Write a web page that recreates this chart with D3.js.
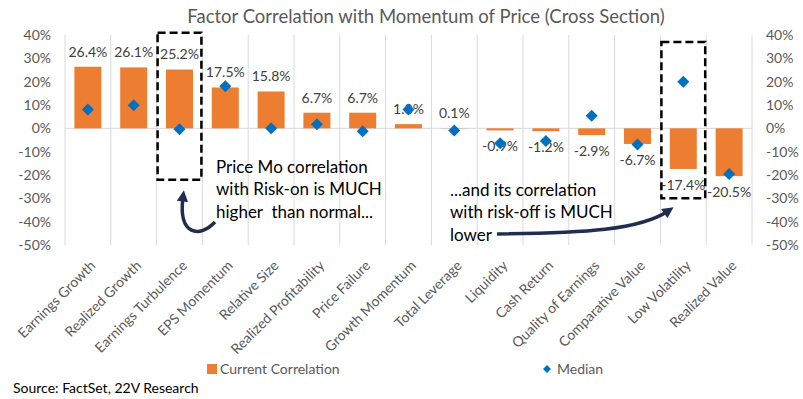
<!DOCTYPE html>
<html>
<head>
<meta charset="utf-8">
<script src="https://cdn.jsdelivr.net/npm/d3@7"></script>
<style>
  body { margin: 0; background: #fff; }
  text { font-family: Lato, "Open Sans", sans-serif; }
</style>
</head>
<body>
<script>
var categories = ["Earnings Growth", "Realized Growth", "Earnings Turbulence", "EPS Momentum", "Relative Size",
  "Realized Profitability", "Price Failure", "Growth Momentum", "Total Leverage", "Liquidity", "Cash Return",
  "Quality of Earnings", "Comparative Value", "Low Volatility", "Realized Value"];
var current = [26.4, 26.1, 25.2, 17.5, 15.8, 6.7, 6.7, 1.8, 0.1, -0.9, -1.2, -2.9, -6.7, -17.4, -20.5];
var median = [8.1, 9.9, -0.4, 18.0, 0.0, 1.7, -1.3, 8.1, -0.9, -6.4, -5.4, 5.4, -6.9, 20.0, -19.6];
var yTicks = [40, 30, 20, 10, 0, -10, -20, -30, -40, -50];

var width = 803, height = 399;
var margin = { top: 35, right: 51, bottom: 154, left: 65 };

var svg = d3.select("body").append("svg")
  .attr("width", width)
  .attr("height", height);

var x = d3.scaleBand()
  .domain(categories)
  .range([margin.left, width - margin.right]);

var y = d3.scaleLinear()
  .domain([-50, 40])
  .range([height - margin.bottom, margin.top]);

var grey = "#595959";

// title
svg.append("text")
  .attr("x", 426).attr("y", 17)
  .attr("dy", "0.35em")
  .attr("text-anchor", "middle")
  .style("font-size", "18.5px")
  .style("fill", grey)
  .text("Factor Correlation with Momentum of Price (Cross Section)");

// vertical gridlines at category boundaries
var bounds = categories.map(function (d) { return x(d); }).concat([x.range()[1]]);
svg.append("g").selectAll("line")
  .data(bounds).enter().append("line")
  .attr("x1", function (d) { return d; })
  .attr("x2", function (d) { return d; })
  .attr("y1", y(40)).attr("y2", y(-50))
  .style("stroke", "#d9d9d9").style("stroke-width", 1);

// zero line
svg.append("line")
  .attr("x1", x.range()[0]).attr("x2", x.range()[1])
  .attr("y1", y(0)).attr("y2", y(0))
  .style("stroke", "#d9d9d9").style("stroke-width", 1);

// y axes (left and right)
var fmt = function (d) { return d + "%"; };
svg.append("g").selectAll("text")
  .data(yTicks).enter().append("text")
  .attr("x", 51).attr("y", function (d) { return y(d); })
  .attr("dy", "0.35em").attr("text-anchor", "end")
  .style("font-size", "14px").style("fill", grey)
  .text(fmt);
svg.append("g").selectAll("text")
  .data(yTicks).enter().append("text")
  .attr("x", 766).attr("y", function (d) { return y(d); })
  .attr("dy", "0.35em").attr("text-anchor", "start")
  .style("font-size", "14px").style("fill", grey)
  .text(fmt);

// category labels
svg.append("g").selectAll("text")
  .data(categories).enter().append("text")
  .attr("transform", function (d) {
    return "translate(" + (x(d) + x.bandwidth() / 2 + 5) + ",263) rotate(-45)";
  })
  .attr("dy", "0.35em").attr("text-anchor", "end")
  .style("font-size", "14px").style("fill", grey)
  .text(function (d) { return d; });

// bars
var barW = 27;
svg.append("g").selectAll("rect")
  .data(current).enter().append("rect")
  .attr("x", function (d, i) { return x(categories[i]) + (x.bandwidth() - barW) / 2; })
  .attr("y", function (d) { return y(Math.max(0, d)); })
  .attr("width", barW)
  .attr("height", function (d) { return Math.abs(y(d) - y(0)); })
  .style("fill", "#ed7d31");

// bar labels
svg.append("g").selectAll("text")
  .data(current).enter().append("text")
  .attr("x", function (d, i) { return x(categories[i]) + x.bandwidth() / 2; })
  .attr("y", function (d) { return d >= 0 ? y(d) - 15 : y(d) + 16; })
  .attr("dy", "0.35em").attr("text-anchor", "middle")
  .style("font-size", "14px").style("fill", "#404040")
  .text(function (d) { return d.toFixed(1) + "%"; });

// median diamonds
var dm = 6;
function diamond(r) { return "M0," + (-r) + "L" + r + ",0L0," + r + "L" + (-r) + ",0Z"; }
svg.append("g").selectAll("path")
  .data(median).enter().append("path")
  .attr("transform", function (d, i) {
    return "translate(" + (x(categories[i]) + x.bandwidth() / 2) + "," + y(d) + ")";
  })
  .attr("d", diamond(dm))
  .style("fill", "#0070c0");

// dashed highlight boxes
var boxes = [
  { cat: "Earnings Turbulence", top: 41, bottom: -22 },
  { cat: "Low Volatility", top: 37, bottom: -30 }
];
svg.append("g").selectAll("rect")
  .data(boxes).enter().append("rect")
  .attr("x", function (d) { return x(d.cat) + 1; })
  .attr("y", function (d) { return y(d.top); })
  .attr("width", x.bandwidth() - 2)
  .attr("height", function (d) { return y(d.bottom) - y(d.top); })
  .style("fill", "none").style("stroke", "#000")
  .style("stroke-width", 2.5).style("stroke-dasharray", "8,4");

// annotations
var note1 = ["Price Mo correlation", "with Risk-on is MUCH", "higher  than normal..."];
var note2 = ["...and its correlation", "with risk-off is MUCH", "lower"];
svg.append("text")
  .attr("x", 216).attr("y", 167)
  .style("font-size", "17px").style("fill", "#000")
  .selectAll("tspan").data(note1).enter().append("tspan")
  .attr("x", 216).attr("dy", function (d, i) { return i ? 22.5 : "0.35em"; })
  .style("white-space", "pre")
  .text(function (d) { return d; });
svg.append("text")
  .attr("x", 450).attr("y", 190)
  .style("font-size", "17px").style("fill", "#000")
  .selectAll("tspan").data(note2).enter().append("tspan")
  .attr("x", 450).attr("dy", function (d, i) { return i ? 22.5 : "0.35em"; })
  .text(function (d) { return d; });

// arrows
var navy = "#1f2d4f";
svg.append("defs").append("marker")
  .attr("id", "head")
  .attr("viewBox", "0 0 10 10")
  .attr("refX", 4).attr("refY", 5)
  .attr("markerWidth", 3.4).attr("markerHeight", 3.2)
  .attr("orient", "auto")
  .append("path").attr("d", "M0,0L10,5L0,10Z").style("fill", navy);

svg.append("path")
  .attr("d", "M215,222 C200,238 178,236 183,197")
  .style("fill", "none").style("stroke", navy).style("stroke-width", 3.5)
  .attr("marker-end", "url(#head)");
svg.append("path")
  .attr("d", "M497,234 C585,233 640,230 668,211")
  .style("fill", "none").style("stroke", navy).style("stroke-width", 3.5)
  .attr("marker-end", "url(#head)");

// legend
svg.append("rect")
  .attr("x", 207).attr("y", 364).attr("width", 10).attr("height", 10)
  .style("fill", "#ed7d31");
svg.append("text")
  .attr("x", 220).attr("y", 369).attr("dy", "0.35em")
  .style("font-size", "14px").style("fill", grey)
  .text("Current Correlation");
svg.append("path")
  .attr("transform", "translate(547,369)")
  .attr("d", diamond(4))
  .style("fill", "#0070c0");
svg.append("text")
  .attr("x", 557).attr("y", 369).attr("dy", "0.35em")
  .style("font-size", "14px").style("fill", grey)
  .text("Median");

// source
svg.append("text")
  .attr("x", 13).attr("y", 388).attr("dy", "0.35em")
  .style("font-size", "14px").style("fill", "#000")
  .text("Source: FactSet, 22V Research");
</script>
</body>
</html>
